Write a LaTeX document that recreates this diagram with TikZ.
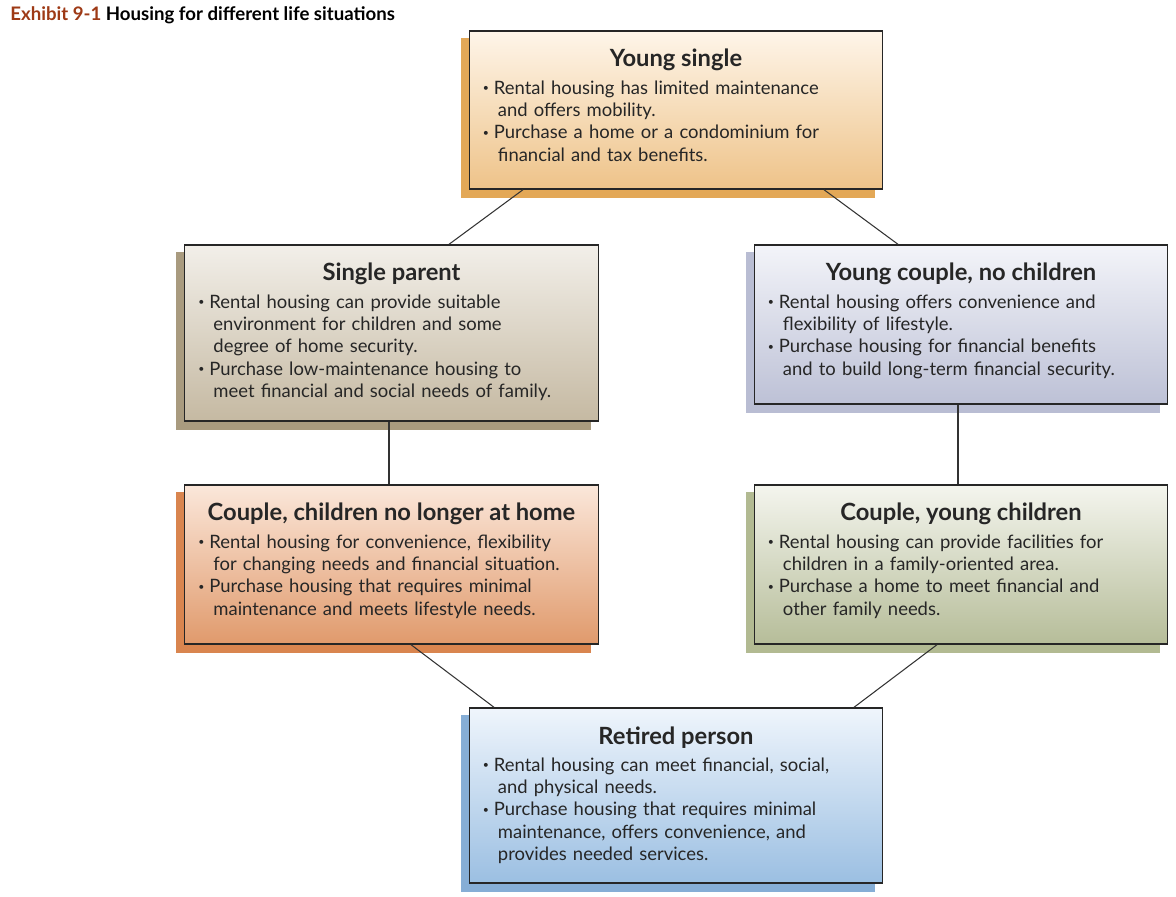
\documentclass[tikz,border=0pt]{standalone}
\usepackage{fontspec}
\setmainfont{Lato}
\usetikzlibrary{backgrounds}
\definecolor{txt}{HTML}{262626}
\definecolor{exhibit}{HTML}{9E3A16}
\definecolor{ysshade}{HTML}{E3A857}\definecolor{ystop}{HTML}{FEF5E9}\definecolor{ysbot}{HTML}{EEC389}
\definecolor{spshade}{HTML}{A99B7F}\definecolor{sptop}{HTML}{F2EFE9}\definecolor{spbot}{HTML}{C5B9A2}
\definecolor{ycshade}{HTML}{B9BDD3}\definecolor{yctop}{HTML}{F3F4F9}\definecolor{ycbot}{HTML}{BDC1D6}
\definecolor{cnshade}{HTML}{D9854F}\definecolor{cntop}{HTML}{FBE7DA}\definecolor{cnbot}{HTML}{E09A6C}
\definecolor{cyshade}{HTML}{B2BA92}\definecolor{cytop}{HTML}{F4F5EE}\definecolor{cybot}{HTML}{B6BD99}
\definecolor{rpshade}{HTML}{86AED6}\definecolor{rptop}{HTML}{EFF5FC}\definecolor{rpbot}{HTML}{9BBFE2}
\newcommand\bul[1]{\par\noindent\hangindent=0.3cm\hangafter=1%
  \makebox[0.22cm][l]{\raisebox{0.3ex}{\fontsize{6}{6}\selectfont\textbullet}}#1\par}

\begin{document}
\begin{tikzpicture}[x=0.02cm,y=-0.02cm,
    frame/.style={draw=black!85,line width=0.8pt,inner sep=0pt,minimum width=8.27cm},
    head/.style={font=\bfseries\fontsize{13.5}{16}\selectfont,text=txt,inner sep=0pt},
    body/.style={anchor=north west,text width=7.9cm,inner sep=0pt,text=txt,
      font=\fontsize{10.5}{12.76}\selectfont},
    link/.style={draw=black!80,line width=0.6pt}]
  \useasboundingbox(0,0)rectangle(1176,896);
  \node[anchor=west,inner sep=0pt,font=\bfseries\fontsize{10.6}{12}\selectfont] (title) at (10,15)
    {\textcolor{exhibit}{Exhibit 9-1} Housing for different life situations};
  % boxes
  \node[frame,minimum height=3.16cm,top color=ystop,bottom color=ysbot] (ys) at (676,110) {};
  \node[frame,minimum height=3.52cm,top color=sptop,bottom color=spbot] (sp) at (391.5,333) {};
  \node[frame,minimum height=3.18cm,top color=yctop,bottom color=ycbot] (yc) at (961,324.5) {};
  \node[frame,minimum height=3.18cm,top color=cntop,bottom color=cnbot] (cn) at (391.5,564.5) {};
  \node[frame,minimum height=3.18cm,top color=cytop,bottom color=cybot] (cy) at (961,564.5) {};
  \node[frame,minimum height=3.50cm,top color=rptop,bottom color=rpbot] (rp) at (676,795.5) {};
  \begin{scope}[on background layer]
    \foreach \b in {ys,sp,yc,cn,cy,rp}
      \fill[\b shade]([shift={(-0.16cm,-0.16cm)}]\b.south west)rectangle([shift={(-0.16cm,-0.16cm)}]\b.north east);
  \end{scope}
  % headings
  \node[head] (ysh) at ([yshift=-0.6cm]ys.north) {Young single};
  \node[head] (sph) at ([yshift=-0.6cm]sp.north) {Single parent};
  \node[head] (ych) at ([yshift=-0.6cm]yc.north) {Young couple, no children};
  \node[head] (cnh) at ([yshift=-0.6cm]cn.north) {Couple, children no longer at home};
  \node[head] (cyh) at ([yshift=-0.6cm]cy.north) {Couple, young children};
  \node[head] (rph) at ([yshift=-0.6cm]rp.north) {Retired person};
  % bullets
  \node[body] (ysb) at ([shift={(0.28cm,-0.82cm)}]ys.north west)
    {\bul{Rental housing has limited maintenance\newline and offers mobility.}%
     \bul{Purchase a home or a condominium for\newline financial and tax benefits.}};
  \node[body] (spb) at ([shift={(0.28cm,-0.82cm)}]sp.north west)
    {\bul{Rental housing can provide suitable\newline environment for children and some\newline degree of home security.}%
     \bul{Purchase low-maintenance housing to\newline meet financial and social needs of family.}};
  \node[body] (ycb) at ([shift={(0.28cm,-0.82cm)}]yc.north west)
    {\bul{Rental housing offers convenience and\newline flexibility of lifestyle.}%
     \bul{Purchase housing for financial benefits\newline and to build long-term financial security.}};
  \node[body] (cnb) at ([shift={(0.28cm,-0.82cm)}]cn.north west)
    {\bul{Rental housing for convenience, flexibility\newline for changing needs and financial situation.}%
     \bul{Purchase housing that requires minimal\newline maintenance and meets lifestyle needs.}};
  \node[body] (cyb) at ([shift={(0.28cm,-0.82cm)}]cy.north west)
    {\bul{Rental housing can provide facilities for\newline children in a family-oriented area.}%
     \bul{Purchase a home to meet financial and\newline other family needs.}};
  \node[body] (rpb) at ([shift={(0.28cm,-0.82cm)}]rp.north west)
    {\bul{Rental housing can meet financial, social,\newline and physical needs.}%
     \bul{Purchase housing that requires minimal\newline maintenance, offers convenience, and\newline provides needed services.}};
  % links
  \draw[link]([xshift=-3.06cm]ys.south)--([xshift=1.15cm]sp.north);
  \draw[link]([xshift=2.96cm]ys.south)--([xshift=-1.26cm]yc.north);
  \draw[link]([xshift=-0.05cm]sp.south)--([xshift=-0.05cm]cn.north);
  \draw[link]([xshift=-0.06cm]yc.south)--([xshift=-0.06cm]cy.north);
  \draw[link]([xshift=0.39cm]cn.south)--([xshift=-3.64cm]rp.north);
  \draw[link]([xshift=-0.48cm]cy.south)--([xshift=3.56cm]rp.north);
\end{tikzpicture}
\end{document}
